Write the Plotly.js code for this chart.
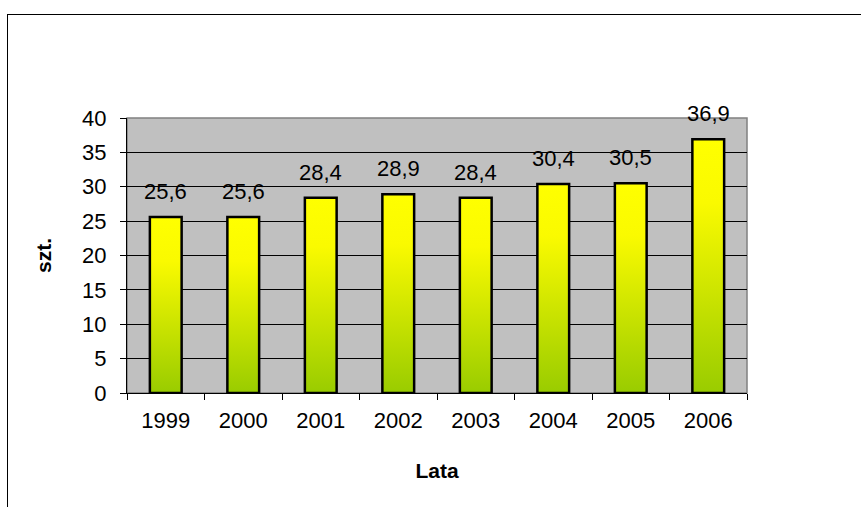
<!DOCTYPE html>
<html>
<head>
<meta charset="utf-8">
<script src="https://cdn.plot.ly/plotly-3.0.1.min.js"></script>
<style>
  html, body { margin: 0; padding: 0; background: #ffffff; }
  #frame { position: absolute; left: 7px; top: 14px; width: 900px; height: 600px; border: 1px solid #000; box-sizing: border-box; }
  #chart { position: absolute; left: 0; top: 0; width: 861px; height: 507px; }
</style>
</head>
<body>
<div id="frame"></div>
<div id="chart"></div>
<script>
const years = ['1999', '2000', '2001', '2002', '2003', '2004', '2005', '2006'];
const values = [25.6, 25.6, 28.4, 28.9, 28.4, 30.4, 30.5, 36.9];
const yTitle = 'szt.';
const xTitle = 'Lata';

const fontFamily = 'Arial, "Liberation Sans", sans-serif';

const trace = {
  type: 'bar',
  x: years,
  y: values,
  width: 0.41,
  marker: { color: '#DDEE00', line: { color: '#000000', width: 2.5 } },
  hoverinfo: 'skip',
  cliponaxis: false
};

const annotations = years.map((yr, i) => ({
  x: i, y: values[i], xref: 'x', yref: 'y',
  text: values[i].toFixed(1).replace('.', ','),
  showarrow: false, yanchor: 'bottom', yshift: 11,
  font: { family: fontFamily, size: 22, color: '#000' }
}));

const layout = {
  width: 861, height: 507,
  margin: { l: 126.7, r: 114.3, t: 117.7, b: 113.7, pad: 0 },
  paper_bgcolor: 'rgba(0,0,0,0)',
  plot_bgcolor: '#C0C0C0',
  showlegend: false,
  font: { family: fontFamily, size: 22, color: '#000' },
  xaxis: {
    type: 'category', range: [-0.5, years.length - 0.5], autorange: false,
    showgrid: false, showline: true, linecolor: '#000', linewidth: 1,
    ticks: 'outside', tickson: 'boundaries', ticklen: 6, tickcolor: '#000',
    ticklabelstandoff: 8,
    tickfont: { size: 22 }, tickangle: 0, fixedrange: true,
    title: { text: xTitle, font: { size: 21, weight: 'bold' }, standoff: 30 }
  },
  yaxis: {
    range: [0, 40], dtick: 5, showgrid: true, gridcolor: '#000', gridwidth: 1,
    showline: true, linecolor: '#000', linewidth: 1,
    ticks: 'outside', ticklen: 6, tickcolor: '#000',
    ticklabelstandoff: 9,
    tickfont: { size: 22 }, fixedrange: true, zeroline: false,
    title: { text: yTitle, font: { size: 21, weight: 'bold' }, standoff: 24 }
  },
  shapes: [{
    type: 'rect', xref: 'paper', yref: 'paper', x0: 0, x1: 1, y0: 0, y1: 1,
    line: { color: '#808080', width: 1.5 }, layer: 'below'
  }],
  annotations: annotations
};

function applyGradient(gd) {
  const svg = gd.querySelector('svg.main-svg');
  if (!svg) return;
  let defs = svg.querySelector('defs');
  if (!defs) { defs = document.createElementNS('http://www.w3.org/2000/svg', 'defs'); svg.insertBefore(defs, svg.firstChild); }
  if (!svg.querySelector('#barGrad')) {
    const lg = document.createElementNS('http://www.w3.org/2000/svg', 'linearGradient');
    lg.setAttribute('id', 'barGrad');
    lg.setAttribute('x1', '0'); lg.setAttribute('y1', '0');
    lg.setAttribute('x2', '0'); lg.setAttribute('y2', '1');
    [['0', '#FFFF00'], ['0.25', '#FAFA00'], ['1', '#99CC00']].forEach(([o, c]) => {
      const s = document.createElementNS('http://www.w3.org/2000/svg', 'stop');
      s.setAttribute('offset', o); s.setAttribute('stop-color', c);
      lg.appendChild(s);
    });
    defs.appendChild(lg);
  }
  gd.querySelectorAll('.trace.bars .point path').forEach(p => {
    p.style.fill = 'url(#barGrad)';
  });
}

const gd = document.getElementById('chart');
Plotly.newPlot(gd, [trace], layout, { staticPlot: true, displayModeBar: false }).then(() => {
  applyGradient(gd);
  gd.on('plotly_afterplot', () => applyGradient(gd));
});
</script>
</body>
</html>
